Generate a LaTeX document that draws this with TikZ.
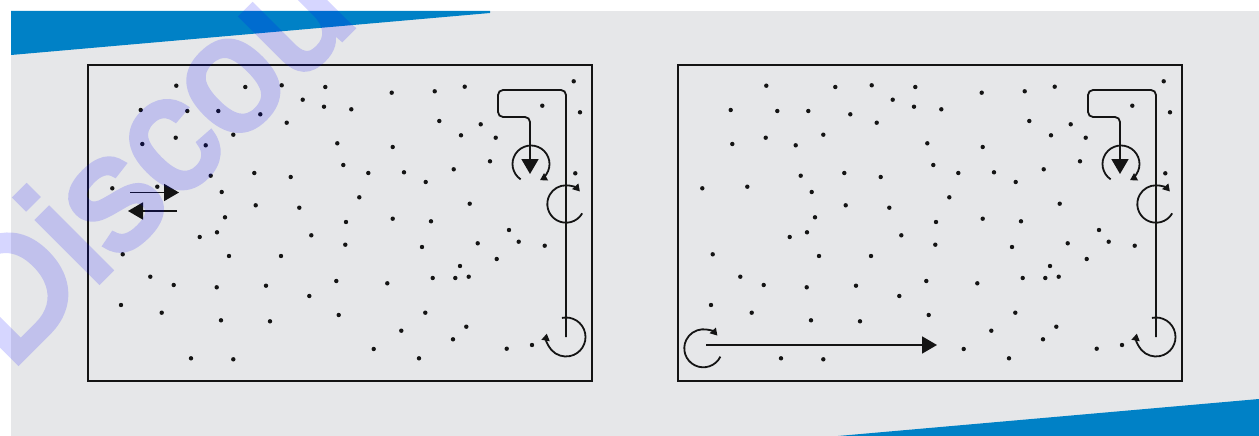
\documentclass[tikz,border=0pt]{standalone}
\usepackage{fontspec}
\setmainfont{Liberation Sans}
\newfontfamily\wmfont{Liberation Sans}[UprightFeatures={FakeBold=4}]
\usetikzlibrary{arrows.meta}
\definecolor{bggray}{HTML}{E6E7E9}
\definecolor{bandblue}{HTML}{0081C6}
\definecolor{ink}{HTML}{141414}
\tikzset{
  frame/.style={draw=ink, line width=2pt},
  dotmark/.style={fill=ink},
  flowline/.style={draw=ink, line width=1.8pt, rounded corners=5pt, -{Triangle[length=15pt,width=17pt]}},
  bigarrow/.style={draw=ink, line width=1.8pt, -{Triangle[length=15pt,width=17pt]}},
  spin/.style={draw=ink, line width=1.8pt, -{Triangle[length=7pt,width=8pt]}},
  watermark/.style={rotate=45, anchor=base west, inner sep=0pt, text=blue,
    font=\wmfont\fontsize{162}{162}\selectfont}
}
\def\dotlist{176.3/85.7,245.3/87,281.7/85.3,325.3/87,391.7/92.7,302.7/99.7,324/106.7,351.3/109.3,
140.7/110,187.3/111,218.3/111,260.3/114.3,286.7/122.7,233.3/134.7,175.7/137.7,142.3/144,205.7/145.3,
337.3/143.3,392.7/147,343.3/165,210.7/175.7,254.3/173,290.7/177,368.3/173,404/172.3,112.3/188.3,
157.3/186.7,221.7/192,359.3/197.3,255.7/205.3,299.3/207.7,225/217.3,346/222,392.7/218.7,199.7/237,
217/232.3,311.3/235.3,345.3/244.7,122.7/254.3,229/256,281/256,150.3/276.7,173.7/285,216.7/287.3,
266/285.7,336.3/281,387.3/283.3,309.3/296,121/305,161.7/312.7,221/320.3,270/321.3,338.7/315,
401.3/330.7,373.7/349,191/358.3,233.3/359.3,434.7/91.3,464.7/86.7,573.7/81.3,542.3/105.7,580/112.3,
439.3/121,480.7/124.3,461/135.3,495.7/137.7,490/161.3,453.7/169.3,425.7/182,575.3/173.3,469.7/203.7,
431/221.3,509/230,422/247,477.7/243.3,518.7/241.7,544.7/245.7,496.7/259,460/266,432.7/278,455.3/278,
468.7/276.7,425.3/312.7,466.3/326.7,453/339.3,419/358.3,506.7/348.7,532/345}
\newcommand\panelcommon{%
  \draw[frame] (88,65) rectangle (592,381);
  \foreach \x/\y in \dotlist { \fill[dotmark] (\x,\y) circle[radius=2.2pt]; }
  \coordinate (c1) at (531,164);
  \coordinate (c2) at (566,204);
  \coordinate (c3) at (566,337);
  \coordinate (k1) at (566,90);
  \coordinate (k2) at (498,90);
  \coordinate (k3) at (498,117);
  \coordinate (k4) at (530,117);
  \coordinate (tip) at (530,174);
  \draw[flowline] (c3) -- (k1) -- (k2) -- (k3) -- (k4) -- (tip);
  \draw[spin] (c1) ++(236:18.5pt) arc[start angle=236, end angle=-61, radius=18.5pt];
  \draw[spin] (c2) ++(-30:18.7pt) arc[start angle=-30, end angle=-318, radius=18.7pt];
  \draw[spin] (c3) ++(102:19.5pt) arc[start angle=102, end angle=-190, radius=19.5pt];
}
\begin{document}
\begin{tikzpicture}[x=1pt,y=-1pt]
\useasboundingbox (0,0) rectangle (1259,436);
\clip (0,0) rectangle (1259,436);
\fill[white] (0,0) rectangle (1259,436);
\fill[bggray] (11,11) rectangle (1259,436);
\fill[bandblue] (11,11) -- (490,11) -- (490,13) -- (11,55) -- cycle;
\fill[bandblue] (838,436) -- (1259,399) -- (1259,436) -- cycle;
% left panel
\begin{scope}[name prefix=pa-]
  \panelcommon
  \coordinate (r1) at (130,192.5);
  \coordinate (r2) at (179,192.5);
  \coordinate (l1) at (177,211);
  \coordinate (l2) at (128,211);
  \draw[bigarrow] (r1) -- (r2);
  \draw[bigarrow] (l1) -- (l2);
\end{scope}
% right panel
\begin{scope}[xshift=590pt, name prefix=pb-]
  \panelcommon
\end{scope}
\coordinate (c4) at (703.3,348.3);
\coordinate (hs) at (706,345);
\coordinate (he) at (937,345);
\draw[spin] (c4) ++(-26:19pt) arc[start angle=-26, end angle=-318, radius=19pt];
\draw[bigarrow] (hs) -- (he);
% watermark
\begin{scope}[transparency group, opacity=0.16]
\node[watermark] (wm) at (9,371) {Discou};
\end{scope}
\end{tikzpicture}
\end{document}
